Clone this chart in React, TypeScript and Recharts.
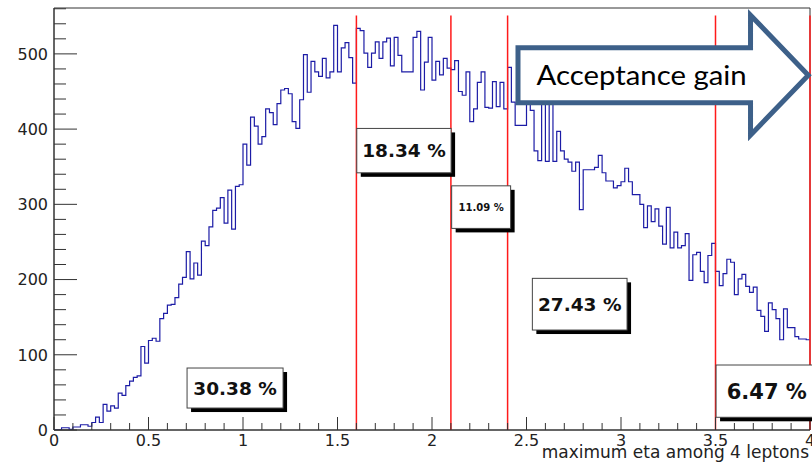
import React from 'react';
import { LineChart, Line, XAxis, YAxis, ReferenceLine, ReferenceArea, Label } from 'recharts';

// ---- data: histogram of maximum |eta| among 4 leptons, 200 bins of 0.02 from 0 to 4
const BIN_WIDTH = 0.02;
const countsEta0to1 = [
  0, 0, 3, 3, 1, 4, 4, 7, 7, 5,
  10, 17, 10, 34, 25, 32, 29, 49, 46, 59,
  65, 70, 72, 111, 89, 119, 122, 118, 148, 155,
  166, 167, 176, 194, 203, 237, 201, 222, 206, 251,
  245, 270, 292, 295, 309, 275, 319, 267, 324, 326,
];
const countsEta1to2 = [
  380, 352, 416, 404, 380, 390, 427, 422, 406, 434,
  452, 454, 447, 410, 401, 439, 499, 449, 490, 476,
  470, 494, 468, 476, 538, 476, 508, 515, 495, 461,
  534, 531, 501, 482, 501, 516, 494, 516, 521, 484,
  522, 498, 476, 476, 476, 522, 530, 452, 489, 522,
];
const countsEta2to3 = [
  465, 490, 472, 494, 481, 479, 491, 450, 445, 476,
  410, 427, 462, 476, 429, 428, 463, 430, 462, 427,
  482, 436, 405, 405, 405, 452, 425, 371, 358, 450,
  357, 450, 357, 397, 371, 360, 356, 344, 356, 293,
  346, 346, 346, 349, 365, 342, 331, 331, 322, 325,
];
const countsEta3to4 = [
  330, 348, 330, 313, 313, 300, 269, 298, 277, 294,
  271, 247, 296, 242, 263, 242, 245, 261, 199, 233,
  236, 211, 196, 232, 248, 211, 192, 208, 227, 223,
  180, 201, 207, 191, 183, 190, 159, 151, 131, 169,
  160, 148, 120, 161, 136, 136, 124, 121, 121, 120,
];

const cutPositions = [1.6, 2.1, 2.4, 3.5, 4.0];
const fractionLabels = ['30.38 %', '18.34 %', '11.09 %', '27.43 %', '6.47 %'];
const arrowText = 'Acceptance gain';
const axisTitle = 'maximum eta among 4 leptons';
const yTickValues = [0, 20, 40, 60, 80, 100, 120, 140, 160, 180, 200, 220, 240, 260, 280, 300, 320, 340, 360, 380, 400, 420, 440, 460, 480, 500, 520, 540, 560];
const xTickValues = [0, 0.1, 0.2, 0.3, 0.4, 0.5, 0.6, 0.7, 0.8, 0.9, 1, 1.1, 1.2, 1.3, 1.4, 1.5, 1.6, 1.7, 1.8, 1.9, 2, 2.1, 2.2, 2.3, 2.4, 2.5, 2.6, 2.7, 2.8, 2.9, 3, 3.1, 3.2, 3.3, 3.4, 3.5, 3.6, 3.7, 3.8, 3.9, 4];

// ---- layout / placement (kept apart from the data)
const W = 812;
const H = 465;
const MARGIN = { top: 8, right: 2, bottom: 0, left: 0 };
const Y_MAX = 561;
const CUT_TOP = 551;
const boxPlacement = [
  { x1: 0.704, x2: 1.212, y1: 29.2, y2: 82.4, fs: 18.5 },
  { x1: 1.602, x2: 2.101, y1: 341.9, y2: 400.9, fs: 18.5 },
  { x1: 2.104, x2: 2.416, y1: 268.0, y2: 324.6, fs: 10 },
  { x1: 2.531, x2: 3.032, y1: 132.9, y2: 201.6, fs: 18.5 },
  { x1: 3.503, x2: 4.04, y1: 16.9, y2: 86.4, fs: 21 },
];
const arrowPlacement = { x1: 2.455, x2: 3.991, y1: 392.0, y2: 551.4 };

const allCounts = [...countsEta0to1, ...countsEta1to2, ...countsEta2to3, ...countsEta3to4];
const histData = allCounts.map((c, i) => ({ x: Number((i * BIN_WIDTH).toFixed(2)), y: c }));
histData.push({ x: Number((allCounts.length * BIN_WIDTH).toFixed(2)), y: allCounts[allCounts.length - 1] });

const FONT = 'DejaVu Sans, Verdana, sans-serif';
const AXIS_COLOR = '#333';

const fmtX = (v: number) => String(Number(v.toFixed(1)));

const XTick = (props: any) => {
  const { x, y, payload } = props;
  const v = payload.value as number;
  const major = Math.abs(v * 2 - Math.round(v * 2)) < 1e-6;
  return (
    <g>
      <line x1={x} y1={y} x2={x} y2={y - (major ? 13 : 7)} stroke={AXIS_COLOR} strokeWidth={1} />
      {major && (
        <text x={x} y={y + 16} textAnchor="middle" fontFamily={FONT} fontSize={16} fill="#222">
          {fmtX(v)}
        </text>
      )}
    </g>
  );
};

const YTick = (props: any) => {
  const { x, y, payload } = props;
  const v = payload.value as number;
  const major = v % 100 === 0;
  return (
    <g>
      <line x1={x} y1={y} x2={x + (major ? 23 : 12)} y2={y} stroke={AXIS_COLOR} strokeWidth={1} />
      {major && v <= 500 && (
        <text x={x - 6} y={y + 5.8} textAnchor="end" fontFamily={FONT} fontSize={16} fill="#222">
          {v}
        </text>
      )}
    </g>
  );
};

const AxisTitle = (props: any) => {
  const vb = props.viewBox || {};
  return (
    <text x={vb.x + vb.width - 1} y={vb.y + 27.5} textAnchor="end" fontFamily={FONT} fontSize={17} fill="#222">
      {axisTitle}
    </text>
  );
};

const makeBox = (label: string, fs: number) => (props: any) => {
  const { x, y, width, height } = props;
  const s = 4;
  return (
    <g>
      <rect x={x + s} y={y + s} width={width} height={height} fill="#000" />
      <rect x={x} y={y} width={width} height={height} fill="#fff" stroke="#444" strokeWidth={1} />
      <text
        x={x + width / 2}
        y={y + height / 2 + fs * 0.365}
        textAnchor="middle"
        fontFamily="DejaVu Sans, sans-serif"
        fontWeight="bold"
        fontSize={fs}
        fill="#111"
      >
        {label}
      </text>
    </g>
  );
};

const ArrowShape = (props: any) => {
  const { x, y, width, height } = props;
  const headX = x + width * 0.801;
  const tipX = x + width;
  const bodyTop = y + height * 0.271;
  const bodyBot = y + height * 0.729;
  const midY = y + height / 2;
  const pts = [
    [x, bodyTop], [headX, bodyTop], [headX, y], [tipX, midY],
    [headX, y + height], [headX, bodyBot], [x, bodyBot],
  ].map((p) => p.join(',')).join(' ');
  return (
    <g>
      <polygon points={pts} fill="#fff" stroke="#3D6089" strokeWidth={5} strokeLinejoin="miter" />
      <text
        x={x + width * 0.064}
        y={y + height * 0.578}
        fontFamily="Lato, Carlito, sans-serif"
        fontSize={26}
        textLength={width * 0.724}
        lengthAdjust="spacingAndGlyphs"
        fill="#000"
      >
        {arrowText}
      </text>
    </g>
  );
};

export default function App() {
  return (
    <div style={{ position: 'absolute', left: 0, top: 0, width: W, height: H, background: '#fff' }}>
      <div style={{ position: 'absolute', left: 0, top: 0 }}>
        <LineChart width={W} height={H} data={histData} margin={MARGIN}>
          <XAxis
            dataKey="x"
            type="number"
            domain={[0, 4]}
            allowDataOverflow
            ticks={xTickValues}
            interval={0}
            tickSize={0}
            tickMargin={0}
            tickLine={false}
            tick={<XTick />}
            axisLine={{ stroke: AXIS_COLOR, strokeWidth: 1 }}
            height={35}
          >
            <Label content={<AxisTitle />} />
          </XAxis>
          <YAxis
            type="number"
            domain={[0, Y_MAX]}
            allowDataOverflow
            ticks={yTickValues}
            interval={0}
            tickSize={0}
            tickMargin={0}
            tickLine={false}
            tick={<YTick />}
            axisLine={{ stroke: AXIS_COLOR, strokeWidth: 1 }}
            width={54}
          />
          <ReferenceArea x1={0} x2={4} y1={0} y2={Y_MAX} fill="none" fillOpacity={0} stroke={AXIS_COLOR} strokeWidth={1} ifOverflow="visible" />
          <Line
            type="stepAfter"
            dataKey="y"
            stroke="#1c1ca6"
            strokeWidth={1.2}
            dot={false}
            activeDot={false}
            isAnimationActive={false}
          />
          {cutPositions.map((c) => (
            <ReferenceLine
              key={c}
              segment={[{ x: c, y: 0 }, { x: c, y: CUT_TOP }]}
              stroke="#ff1a1a"
              strokeWidth={1.5}
              ifOverflow="visible"
            />
          ))}
        </LineChart>
      </div>
      <div style={{ position: 'absolute', left: 0, top: 0, pointerEvents: 'none' }}>
        <LineChart width={W} height={H} data={histData} margin={MARGIN}>
          <XAxis dataKey="x" type="number" domain={[0, 4]} allowDataOverflow ticks={xTickValues} tick={false} tickLine={false} axisLine={false} height={35} />
          <YAxis type="number" domain={[0, Y_MAX]} allowDataOverflow ticks={yTickValues} tick={false} tickLine={false} axisLine={false} width={54} />
          {fractionLabels.map((label, i) => {
            const b = boxPlacement[i];
            return (
              <ReferenceArea
                key={label}
                x1={b.x1}
                x2={b.x2}
                y1={b.y1}
                y2={b.y2}
                ifOverflow="visible"
                shape={makeBox(label, b.fs)}
              />
            );
          })}
          <ReferenceArea
            x1={arrowPlacement.x1}
            x2={arrowPlacement.x2}
            y1={arrowPlacement.y1}
            y2={arrowPlacement.y2}
            ifOverflow="visible"
            shape={ArrowShape}
          />
        </LineChart>
      </div>
    </div>
  );
}
